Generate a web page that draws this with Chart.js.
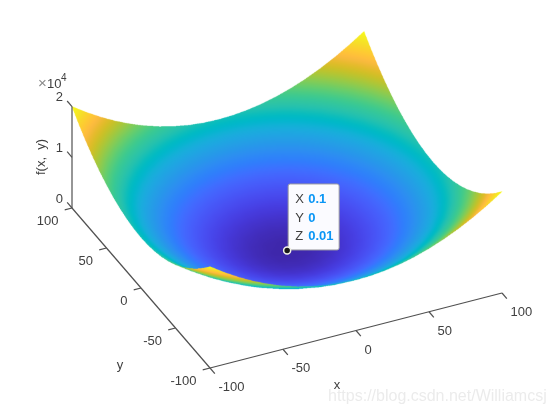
<!DOCTYPE html>
<html>
<head>
<meta charset="utf-8">
<script src="https://cdn.jsdelivr.net/npm/chart.js@4"></script>
<style>
  html, body { margin: 0; padding: 0; background: #fff; }
  canvas { display: block; }
</style>
</head>
<body>
<canvas id="surfChart" width="554" height="415"></canvas>
<script>
// surface samples
const xValues = [-100, -90, -80, -70, -60, -50, -40, -30, -20, -10, 0, 10, 20, 30, 40, 50, 60, 70, 80, 90, 100];
const yValues = [-100, -90, -80, -70, -60, -50, -40, -30, -20, -10, 0, 10, 20, 30, 40, 50, 60, 70, 80, 90, 100];
const zRows = [
  [20000, 18100, 16400, 14900, 13600, 12500, 11600, 10900, 10400, 10100, 10000, 10100, 10400, 10900, 11600, 12500, 13600, 14900, 16400, 18100, 20000],
  [18100, 16200, 14500, 13000, 11700, 10600, 9700, 9000, 8500, 8200, 8100, 8200, 8500, 9000, 9700, 10600, 11700, 13000, 14500, 16200, 18100],
  [16400, 14500, 12800, 11300, 10000, 8900, 8000, 7300, 6800, 6500, 6400, 6500, 6800, 7300, 8000, 8900, 10000, 11300, 12800, 14500, 16400],
  [14900, 13000, 11300, 9800, 8500, 7400, 6500, 5800, 5300, 5000, 4900, 5000, 5300, 5800, 6500, 7400, 8500, 9800, 11300, 13000, 14900],
  [13600, 11700, 10000, 8500, 7200, 6100, 5200, 4500, 4000, 3700, 3600, 3700, 4000, 4500, 5200, 6100, 7200, 8500, 10000, 11700, 13600],
  [12500, 10600, 8900, 7400, 6100, 5000, 4100, 3400, 2900, 2600, 2500, 2600, 2900, 3400, 4100, 5000, 6100, 7400, 8900, 10600, 12500],
  [11600, 9700, 8000, 6500, 5200, 4100, 3200, 2500, 2000, 1700, 1600, 1700, 2000, 2500, 3200, 4100, 5200, 6500, 8000, 9700, 11600],
  [10900, 9000, 7300, 5800, 4500, 3400, 2500, 1800, 1300, 1000, 900, 1000, 1300, 1800, 2500, 3400, 4500, 5800, 7300, 9000, 10900],
  [10400, 8500, 6800, 5300, 4000, 2900, 2000, 1300, 800, 500, 400, 500, 800, 1300, 2000, 2900, 4000, 5300, 6800, 8500, 10400],
  [10100, 8200, 6500, 5000, 3700, 2600, 1700, 1000, 500, 200, 100, 200, 500, 1000, 1700, 2600, 3700, 5000, 6500, 8200, 10100],
  [10000, 8100, 6400, 4900, 3600, 2500, 1600, 900, 400, 100, 0, 100, 400, 900, 1600, 2500, 3600, 4900, 6400, 8100, 10000],
  [10100, 8200, 6500, 5000, 3700, 2600, 1700, 1000, 500, 200, 100, 200, 500, 1000, 1700, 2600, 3700, 5000, 6500, 8200, 10100],
  [10400, 8500, 6800, 5300, 4000, 2900, 2000, 1300, 800, 500, 400, 500, 800, 1300, 2000, 2900, 4000, 5300, 6800, 8500, 10400],
  [10900, 9000, 7300, 5800, 4500, 3400, 2500, 1800, 1300, 1000, 900, 1000, 1300, 1800, 2500, 3400, 4500, 5800, 7300, 9000, 10900],
  [11600, 9700, 8000, 6500, 5200, 4100, 3200, 2500, 2000, 1700, 1600, 1700, 2000, 2500, 3200, 4100, 5200, 6500, 8000, 9700, 11600],
  [12500, 10600, 8900, 7400, 6100, 5000, 4100, 3400, 2900, 2600, 2500, 2600, 2900, 3400, 4100, 5000, 6100, 7400, 8900, 10600, 12500],
  [13600, 11700, 10000, 8500, 7200, 6100, 5200, 4500, 4000, 3700, 3600, 3700, 4000, 4500, 5200, 6100, 7200, 8500, 10000, 11700, 13600],
  [14900, 13000, 11300, 9800, 8500, 7400, 6500, 5800, 5300, 5000, 4900, 5000, 5300, 5800, 6500, 7400, 8500, 9800, 11300, 13000, 14900],
  [16400, 14500, 12800, 11300, 10000, 8900, 8000, 7300, 6800, 6500, 6400, 6500, 6800, 7300, 8000, 8900, 10000, 11300, 12800, 14500, 16400],
  [18100, 16200, 14500, 13000, 11700, 10600, 9700, 9000, 8500, 8200, 8100, 8200, 8500, 9000, 9700, 10600, 11700, 13000, 14500, 16200, 18100],
  [20000, 18100, 16400, 14900, 13600, 12500, 11600, 10900, 10400, 10100, 10000, 10100, 10400, 10900, 11600, 12500, 13600, 14900, 16400, 18100, 20000]
];
const xTicks = [-100, -50, 0, 50, 100];
const yTicks = [-100, -50, 0, 50, 100];
const zTicks = [0, 10000, 20000];
const zTickLabels = ['0', '1', '2'];
const tipPoint = { x: 0.1, y: 0, z: 0.01 };

// parula, 64 steps
const parula = [
  [.2422,.1504,.6603],[.2504,.1650,.7076],[.2578,.1818,.7511],[.2647,.1978,.7952],[.2706,.2147,.8364],[.2751,.2342,.8710],
  [.2783,.2559,.8991],[.2803,.2782,.9221],[.2813,.3006,.9414],[.2810,.3228,.9579],[.2795,.3447,.9717],[.2760,.3667,.9829],
  [.2699,.3892,.9906],[.2602,.4123,.9952],[.2440,.4358,.9988],[.2206,.4603,.9973],[.1963,.4847,.9892],[.1834,.5074,.9798],
  [.1786,.5289,.9682],[.1764,.5499,.9520],[.1687,.5703,.9359],[.1540,.5902,.9218],[.1460,.6091,.9079],[.1380,.6276,.8973],
  [.1240,.6459,.8883],[.1111,.6635,.8763],[.0952,.6798,.8598],[.0689,.6948,.8394],[.0297,.7082,.8163],[.0036,.7203,.7917],
  [.0067,.7312,.7660],[.0433,.7411,.7394],[.0964,.7500,.7120],[.1408,.7584,.6842],[.1717,.7670,.6554],[.1938,.7758,.6251],
  [.2161,.7843,.5923],[.2470,.7918,.5567],[.2906,.7973,.5188],[.3406,.8008,.4789],[.3909,.8029,.4354],[.4456,.8024,.3909],
  [.5044,.7993,.3480],[.5616,.7942,.3045],[.6174,.7876,.2612],[.6720,.7793,.2227],[.7242,.7698,.1910],[.7738,.7598,.1646],
  [.8203,.7498,.1535],[.8634,.7406,.1596],[.9035,.7330,.1774],[.9393,.7288,.2100],[.9728,.7298,.2394],[.9956,.7434,.2371],
  [.9970,.7659,.2199],[.9952,.7893,.2028],[.9892,.8136,.1885],[.9786,.8386,.1766],[.9676,.8639,.1643],[.9610,.8890,.1537],
  [.9597,.9135,.1423],[.9628,.9373,.1265],[.9691,.9606,.1064],[.9769,.9839,.0805]
];

// colour lookup, packed for the pixel buffer
const zLut = new Uint32Array(1024);
for (let n = 0; n < 1024; n++) {
  const t = n / 1023 * 63;
  const k = Math.min(62, Math.floor(t));
  const f = t - k;
  const c = [0, 1, 2].map(m => Math.round((parula[k][m] * (1 - f) + parula[k + 1][m] * f) * 255));
  zLut[n] = (255 << 24 | c[2] << 16 | c[1] << 8 | c[0]) >>> 0;
}

const textColor = '#404040';
const axisColor = '#505050';
const labelFont = '13px "Liberation Sans", Arial, sans-serif';

// MATLAB style view, orthographic: data -> plane of the picture
function project(x, y, z) {
  return {
    x: 210 + (x + 100) * 1.46 - (y + 100) * 0.69,
    y: 368 - (x + 100) * 0.375 - (y + 100) * 0.8 - z * 0.00507,
    z: z
  };
}

const surfPoints = [];
yValues.forEach((y, j) => {
  xValues.forEach((x, i) => surfPoints.push(project(x, y, zRows[j][i])));
});

function lineSet(a, b) {
  return {
    data: [project(a[0], a[1], a[2]), project(b[0], b[1], b[2])],
    showLine: true, borderColor: axisColor, borderWidth: 1.2,
    pointRadius: 0, clip: false
  };
}

const datasets = [
  { label: 'surface', data: surfPoints, pointRadius: 0, showLine: false },
  {
    label: 'tip',
    data: [project(tipPoint.x, tipPoint.y, tipPoint.z)],
    pointRadius: 3.5, borderWidth: 1.5,
    pointBackgroundColor: '#1a1a1a', pointBorderColor: '#f5f5e8', clip: false
  },
  lineSet([-100, -100, 0], [100, -100, 0]),
  lineSet([-100, -100, 0], [-100, 100, 0]),
  lineSet([-100, 100, 0], [-100, 100, 20000])
];
xTicks.forEach(t => datasets.push(lineSet([t, -100, 0], [t, -107, 0])));
yTicks.forEach(t => datasets.push(lineSet([-100, t, 0], [-105, t, 0])));
zTicks.forEach(t => datasets.push(lineSet([-100, 100, t], [-100, 107, t])));

// fills the grid cells back to front into a 3x buffer (shading interp),
// corner pixels come from the scatter elements
function paintSurface(chart) {
  const els = chart.getDatasetMeta(0).data;
  const nx = xValues.length, ny = yValues.length;
  const ss = 3, sub = 100;
  const W = chart.width * ss, H = chart.height * ss;
  const off = document.createElement('canvas');
  off.width = W;
  off.height = H;
  const octx = off.getContext('2d');
  const img = octx.createImageData(W, H);
  const buf = new Uint32Array(img.data.buffer);
  for (let j = ny - 2; j >= 0; j--) {
    for (let i = nx - 2; i >= 0; i--) {
      const p00 = els[j * nx + i], p10 = els[j * nx + i + 1];
      const p01 = els[(j + 1) * nx + i], p11 = els[(j + 1) * nx + i + 1];
      const z00 = zRows[j][i], z10 = zRows[j][i + 1], z01 = zRows[j + 1][i], z11 = zRows[j + 1][i + 1];
      for (let b = sub; b >= 0; b--) {
        const v = b / sub;
        const lx = p00.x + (p01.x - p00.x) * v, rx = p10.x + (p11.x - p10.x) * v;
        const ly = p00.y + (p01.y - p00.y) * v, ry = p10.y + (p11.y - p10.y) * v;
        const lz = z00 + (z01 - z00) * v, rz = z10 + (z11 - z10) * v;
        for (let a = sub; a >= 0; a--) {
          const u = a / sub;
          const px = (lx + (rx - lx) * u) * ss | 0;
          const py = (ly + (ry - ly) * u) * ss | 0;
          if (px < 0 || py < 0 || px >= W || py >= H) continue;
          const n = Math.min(1023, (lz + (rz - lz) * u) / 20000 * 1023 | 0);
          buf[py * W + px] = zLut[n];
        }
      }
    }
  }
  octx.putImageData(img, 0, 0);
  const ctx = chart.ctx;
  ctx.save();
  ctx.imageSmoothingEnabled = true;
  ctx.imageSmoothingQuality = 'high';
  ctx.drawImage(off, 0, 0, chart.width, chart.height);
  ctx.restore();
}

const surfacePlugin = {
  id: 'surfacePlugin',
  beforeDatasetsDraw(chart) {
    paintSurface(chart);
    const ctx = chart.ctx;

    // data tip box goes under the marker
    const m = chart.getDatasetMeta(1).data[0];
    ctx.save();
    ctx.beginPath();
    ctx.roundRect(m.x + 1, m.y - 66.5, 51, 66, 2);
    ctx.fillStyle = '#fbfbff';
    ctx.strokeStyle = '#9a9aa0';
    ctx.lineWidth = 1;
    ctx.fill();
    ctx.stroke();
    ctx.textBaseline = 'middle';
    const rows = [['X', String(tipPoint.x)], ['Y', String(tipPoint.y)], ['Z', String(tipPoint.z)]];
    rows.forEach((r, k) => {
      const ty = m.y - 51 + k * 18.5;
      ctx.font = '13px "Liberation Sans", Arial, sans-serif';
      ctx.fillStyle = '#404040';
      ctx.textAlign = 'left';
      ctx.fillText(r[0], m.x + 8, ty);
      ctx.font = 'bold 13px "Liberation Sans", Arial, sans-serif';
      ctx.fillStyle = '#0a96f5';
      ctx.fillText(r[1], m.x + 21, ty);
    });
    ctx.restore();
  },
  afterDatasetsDraw(chart) {
    const ctx = chart.ctx;
    const sx = chart.scales.x, sy = chart.scales.y;
    const put = (txt, p, dx, dy, align) => {
      ctx.textAlign = align || 'center';
      ctx.fillText(txt, sx.getPixelForValue(p.x) + dx, sy.getPixelForValue(p.y) + dy);
    };
    ctx.save();
    ctx.font = labelFont;
    ctx.fillStyle = textColor;
    ctx.textBaseline = 'middle';
    xTicks.forEach(t => put(String(t), project(t, -100, 0), 8.5, 19.5, 'left'));
    yTicks.forEach(t => put(String(t), project(-100, t, 0), -13.5, 13.5, 'right'));
    zTicks.forEach((t, k) => put(zTickLabels[k], project(-100, 100, t), -9, -9, 'right'));
    put('x', project(0, -100, 0), -19, 55);
    put('y', project(-100, 0, 0), -21, 77);

    ctx.textAlign = 'left';
    ctx.font = '15px "Liberation Sans", Arial, sans-serif';
    ctx.fillStyle = '#8a8a8a';
    ctx.fillText('\u00d7', 38, 84);
    ctx.font = labelFont;
    ctx.fillStyle = textColor;
    ctx.fillText('10', 47, 84);
    ctx.font = '10px "Liberation Sans", Arial, sans-serif';
    ctx.fillText('4', 61, 78);

    ctx.font = labelFont;
    ctx.textAlign = 'center';
    ctx.translate(41, 157);
    ctx.rotate(-Math.PI / 2);
    ctx.fillText('f(x,  y)', 0, 0);
    ctx.setTransform(1, 0, 0, 1, 0, 0);

    ctx.font = '16px "Liberation Sans", Arial, sans-serif';
    ctx.fillStyle = 'rgba(190,190,190,0.3)';
    ctx.textAlign = 'left';
    ctx.fillText('https://blog.csdn.net/Williamcsj', 328, 397);
    ctx.restore();
  }
};

new Chart(document.getElementById('surfChart').getContext('2d'), {
  type: 'scatter',
  data: { datasets: datasets },
  options: {
    responsive: false,
    animation: false,
    layout: { padding: 0, autoPadding: false },
    plugins: { legend: { display: false }, tooltip: { enabled: false } },
    scales: {
      x: { type: 'linear', min: 0, max: 554, display: false },
      y: { type: 'linear', min: 0, max: 415, reverse: true, display: false }
    }
  },
  plugins: [surfacePlugin]
});
</script>
</body>
</html>
